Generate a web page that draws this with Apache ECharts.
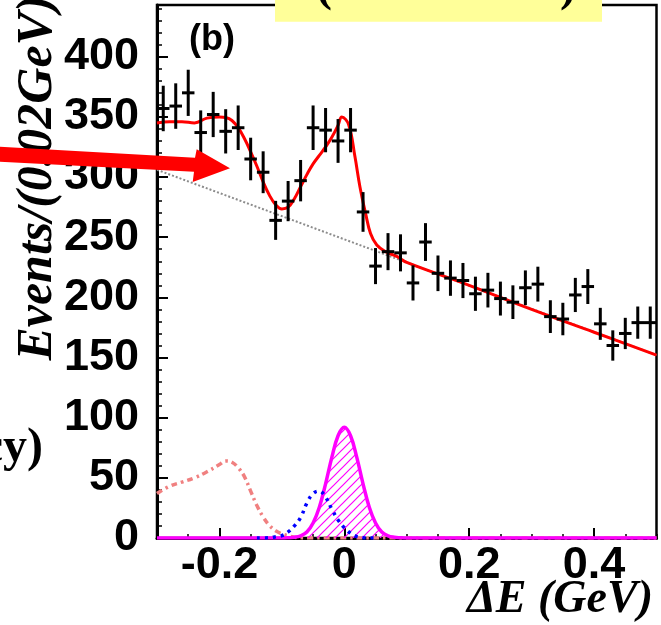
<!DOCTYPE html>
<html><head><meta charset="utf-8">
<script src="https://cdn.jsdelivr.net/npm/echarts@6/dist/echarts.min.js"></script>
<style>html,body{margin:0;padding:0;background:#fff;overflow:hidden}#c{width:661px;height:625px}</style>
</head><body><div id="c"></div>
<script>
// ---- data ----
const binCenters = [-0.29,-0.27,-0.25,-0.23,-0.21,-0.19,-0.17,-0.15,-0.13,-0.11,-0.09,-0.07,-0.05,-0.03,-0.01,
  0.01,0.03,0.05,0.07,0.09,0.11,0.13,0.15,0.17,0.19,0.21,0.23,0.25,0.27,0.29,0.31,0.33,0.35,0.37,0.39,0.41,0.43,0.45,0.47,0.49];
const counts = [357,359,370,337,352,338,341,315,304,264,280,297,341,339,330,
  339,271,226,238,237,212,246,220,216,214,203,206,199,196,208,211,184,182,202,209,178,160,170,179,179];
const errors = [18.9,18.9,19.2,18.4,18.8,18.4,18.5,17.7,17.4,16.2,16.7,17.2,18.5,18.4,18.2,
  18.4,16.5,15,15.4,15.4,14.6,15.7,14.8,14.7,14.6,14.2,14.4,14.1,14,14.4,14.5,13.6,13.5,14.2,14.5,13.3,12.6,13,13.4,13.4];
const binHalfWidth = 0.01;

const fitX = [-0.30,-0.28,-0.26,-0.24,-0.22,-0.20,-0.19,-0.18,-0.17,-0.16,-0.15,-0.14,-0.13,-0.12,-0.11,-0.10,-0.09,-0.08,-0.07,-0.06,-0.05,-0.04,-0.03,-0.02,-0.01,-0.004,0.007,0.017,0.025,0.034,0.042,0.052,0.066,0.084,0.10,0.20,0.30,0.40,0.50];
const fitY = [345,346,346,345,349,350,349.5,347,341,332,321,309,296,285,277,273.5,275,282,292,302,311,318,325,333,343,350,343.5,317,292,270,253,243.5,238,234,229,210,190,171,152];

const bkgX = [-0.30,-0.10,0.10,0.30,0.50];
const bkgY = [306,267.5,229,190.5,152];

const peakBkgX = [-0.30,-0.28,-0.26,-0.24,-0.22,-0.20,-0.19,-0.18,-0.17,-0.16,-0.15,-0.14,-0.13,-0.12,-0.11,-0.10,-0.09,-0.08,-0.07,-0.06,0.10,0.50];
const peakBkgY = [37,43,46.5,50,55,61,64,63,58.5,51,39,27,17.5,10.5,6,3.5,1.8,0.7,0.2,0,0,0];

const crossX = [-0.14,-0.12,-0.11,-0.10,-0.09,-0.08,-0.07,-0.06,-0.05,-0.04,-0.03,-0.02,-0.01,0,0.01,0.02,0.03,0.04,0.05];
const crossY = [0,0.2,1,2,5,10,17,29,37,39,34,24,15,8.5,4,1.2,0.3,0,0];

const sigX = [-0.30,-0.10,-0.09,-0.08,-0.07,-0.06,-0.05,-0.04,-0.03,-0.02,-0.01,0,0.01,0.02,0.03,0.04,0.05,0.06,0.07,0.08,0.09,0.10,0.50];
const sigY = [0,0,0.2,0.6,1.8,5,12.5,25.6,45,67,85,92,85,67,45,25.6,12.5,5,1.8,0.6,0.2,0,0];

const xTickLabels = [-0.2, 0, 0.2, 0.4];
const yMax = 443;

const pairs = (xs, ys) => xs.map((x, i) => [x, ys[i]]);

// hatch pattern for signal (drawn as an SVG data image)
const hatchSvg = 'data:image/svg+xml;utf8,' + encodeURIComponent(
  '<svg xmlns="http://www.w3.org/2000/svg" width="9" height="9">' +
  '<path d="M-1,10 L10,-1 M-2,2 L2,-2 M7,11 L11,7" stroke="#ff00ff" stroke-width="1.2" fill="none"/></svg>');
const hatchImg = new Image();
hatchImg.src = hatchSvg;

const chart = echarts.init(document.getElementById('c'), null, {renderer: 'canvas'});
const tickFont = {fontFamily: 'Liberation Sans', fontWeight: 'bold', fontSize: 45, color: '#000'};

function draw() {
chart.setOption({
  animation: false,
  backgroundColor: '#fff',
  grid: {left: 157, right: 4.5, top: 5, bottom: 87, show: true, borderColor: '#000', borderWidth: 2.5, backgroundColor: 'transparent'},
  xAxis: [{
    type: 'value', min: -0.3, max: 0.5, interval: 0.05,
    axisLine: {show: true, onZero: false, lineStyle: {color: '#000', width: 3}},
    axisTick: {show: true, inside: true, length: 4, lineStyle: {color: '#000', width: 1.5}},
    splitLine: {show: false},
    axisLabel: Object.assign({margin: 5, formatter: v => {
      for (const t of xTickLabels) if (Math.abs(v - t) < 1e-6) return String(t);
      return '';
    }}, tickFont)
  }, {
    type: 'value', min: -0.3, max: 0.5, position: 'bottom',
    axisLine: {show: false},
    axisTick: {show: true, inside: true, length: 10, customValues: xTickLabels, lineStyle: {color: '#000', width: 2}},
    axisLabel: {show: false},
    splitLine: {show: false}
  }],
  yAxis: {
    type: 'value', min: 0, max: yMax, interval: 50,
    axisLine: {show: true, onZero: false, lineStyle: {color: '#000', width: 3}},
    axisTick: {show: true, inside: true, length: 11, lineStyle: {color: '#000', width: 2}},
    minorTick: {show: true, splitNumber: 5, length: 5, lineStyle: {color: '#000', width: 1.5}},
    splitLine: {show: false},
    axisLabel: Object.assign({margin: 18, formatter: v => (v % 50 === 0 ? String(v) : '')}, tickFont)
  },
  series: [
    {type: 'line', data: pairs(sigX, sigY), smooth: 0.4, symbol: 'none', z: 3,
     lineStyle: {color: '#ff00ff', width: 3.5},
     areaStyle: {color: {image: hatchImg, repeat: 'repeat'}, opacity: 1}},
    {type: 'line', data: pairs(peakBkgX, peakBkgY), smooth: 0.4, symbol: 'none', z: 2,
     lineStyle: {color: '#f08080', width: 3.5, type: [6, 4, 2.5, 4]}},
    {type: 'line', data: pairs(crossX, crossY), smooth: 0.4, symbol: 'none', z: 4,
     lineStyle: {color: '#0000ff', width: 3.5, type: [3, 5]}},
    {type: 'line', data: pairs(bkgX, bkgY), symbol: 'none', z: 2,
     lineStyle: {color: '#8c8c8c', width: 2, type: [2, 2]}},
    {type: 'line', data: pairs(fitX, fitY), smooth: 0.4, symbol: 'none', z: 5,
     lineStyle: {color: '#ff0000', width: 3}},
    {type: 'custom', z: 10,
     data: binCenters.map((x, i) => [x, counts[i], errors[i]]),
     renderItem: (params, api) => {
       const x = api.value(0), y = api.value(1), e = api.value(2);
       const t = api.coord([x, y + e]), b = api.coord([x, y - e]);
       const l = api.coord([x - binHalfWidth, y]), r = api.coord([x + binHalfWidth, y]);
       return {type: 'group', children: [
         {type: 'line', shape: {x1: t[0], y1: t[1], x2: b[0], y2: b[1]}, style: {stroke: '#000', lineWidth: 3}},
         {type: 'line', shape: {x1: l[0], y1: l[1], x2: r[0], y2: r[1]}, style: {stroke: '#000', lineWidth: 3}}
       ]};
     }}
  ],
  graphic: [
    {type: 'rect', z: 100, shape: {x: 275, y: -2, width: 327, height: 23.7}, style: {fill: '#ffff99'}},
    {type: 'text', z: 101, x: 324, y: 12, style: {text: '(', font: 'bold 48px "Liberation Serif"', fill: '#000', textAlign: 'center', textVerticalAlign: 'bottom'}},
    {type: 'text', z: 101, x: 568, y: 12, style: {text: ')', font: 'bold 48px "Liberation Serif"', fill: '#000', textAlign: 'center', textVerticalAlign: 'bottom'}},
    {type: 'text', z: 100, x: 189, y: 40, style: {text: '(b)', font: 'bold 36px "Liberation Sans"', fill: '#000', textAlign: 'left', textVerticalAlign: 'middle'}},
    {type: 'text', z: 100, x: 38, y: 178, rotation: Math.PI / 2, style: {text: 'Events/(0.02GeV)', font: 'italic bold 50px "Liberation Serif"', fill: '#000', textAlign: 'center', textVerticalAlign: 'middle'}},
    {type: 'text', z: 100, x: 653, y: 600, style: {text: '\u0394E (GeV)', font: 'italic bold 46px "Liberation Serif"', fill: '#000', textAlign: 'right', textVerticalAlign: 'middle'}},
    {type: 'text', z: 100, x: 43, y: 449, style: {text: 'cy)', font: 'bold 48px "Liberation Serif"', fill: '#000', textAlign: 'right', textVerticalAlign: 'middle'}},
    {type: 'polygon', z: 110, shape: {points: [[0,146.7],[195,157.7],[196.7,149.3],[230,168.3],[192.7,182],[194,171.7],[0,161.7]]}, style: {fill: '#ff0000'}}
  ]
}, true);
}
if (hatchImg.complete) draw(); else { hatchImg.onload = draw; hatchImg.onerror = draw; draw(); }
</script></body></html>
